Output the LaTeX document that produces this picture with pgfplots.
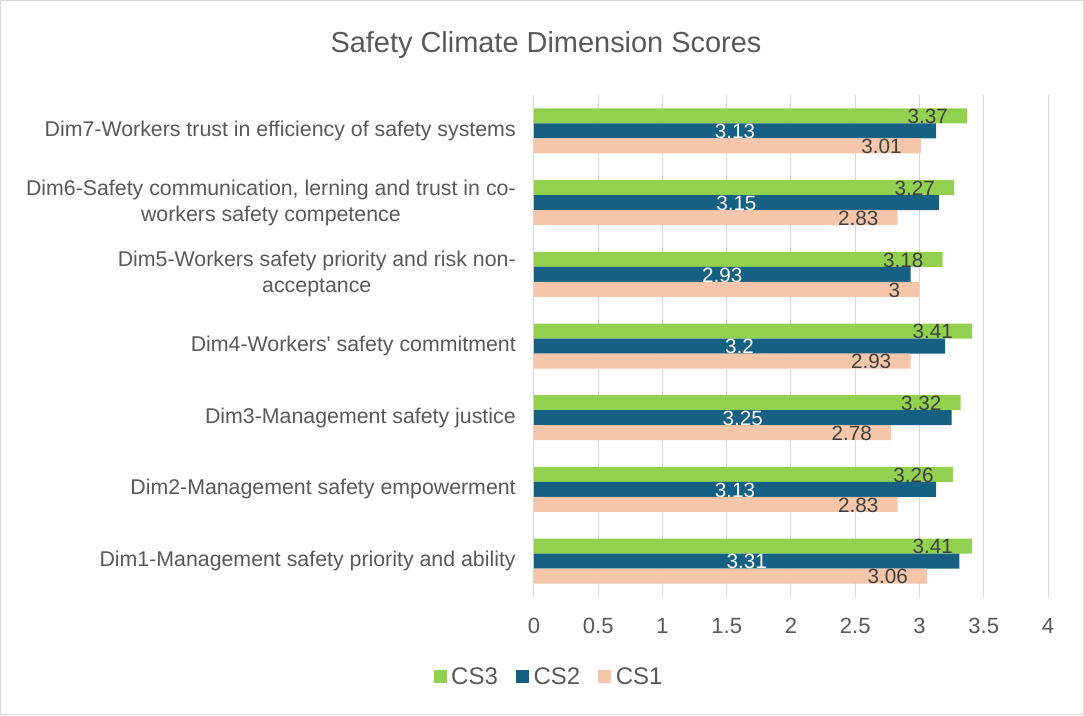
\documentclass[border=0pt]{standalone}
\usepackage{pgfplots}
\pgfplotsset{compat=1.18}
\usepackage{fontspec}
\setmainfont{Liberation Sans}
\definecolor{csg}{HTML}{92D050}
\definecolor{csb}{HTML}{166083}
\definecolor{csp}{HTML}{F5C6AA}
\definecolor{txt}{HTML}{595959}
\definecolor{lbl}{HTML}{404040}
\definecolor{grd}{HTML}{D9D9D9}
\begin{document}
\begin{tikzpicture}
\useasboundingbox (-400.5pt,-88.5pt) rectangle (412.5pt,447.75pt);
\draw[grd, line width=0.75pt] (-400.125pt,-88.125pt) rectangle (412.125pt,447.375pt);
\begin{axis}[
  scale only axis,
  width=385.5pt, height=376.5pt,
  xmin=0, xmax=4, ymin=-0.5, ymax=6.5,
  xbar, bar width=11.25pt,
  xtick={0,0.5,...,4},
  xticklabels={0,0.5,1,1.5,2,2.5,3,3.5,4},
  ytick={0,1,2,3,4,5,6},
  yticklabels={
    {Dim1-Management safety priority and ability},
    {Dim2-Management safety empowerment},
    {Dim3-Management safety justice},
    {Dim4-Workers\textquotesingle{} safety commitment},
    {Dim5-Workers safety priority and risk non-\\acceptance},
    {Dim6-Safety communication, lerning and trust in co-\\workers safety competence},
    {Dim7-Workers trust in efficiency of safety systems}},
  axis line style={draw=none},
  major tick length=0pt,
  xmajorgrids, major grid style={grd, line width=0.75pt},
  /pgf/number format/assume math mode=true,
  yticklabel style={anchor=east, align=center, inner sep=0pt, xshift=-13.5pt, font=\fontsize{16}{19.5}\selectfont, text=txt},
  xticklabel style={anchor=center, inner sep=0pt, yshift=-21.75pt, font=\fontsize{16.5}{19}\selectfont, text=txt},
  legend style={at={(0.028,-0.159)}, anchor=center, legend columns=-1, draw=none, fill=none,
    font=\fontsize{18}{20}\selectfont, text=txt, nodes={inner sep=0.5pt},
    /tikz/every odd column/.append style={column sep=3pt},
    /tikz/every even column/.append style={column sep=13pt}},
  legend image code/.code={\fill[#1] (0pt,-4.875pt) rectangle (9.75pt,4.875pt);},
  nodes near coords,
  every node near coord/.append style={font=\fontsize{15.5}{18}\selectfont, inner sep=0pt},
  clip=false,
]
\addplot[fill=csg, draw=none, bar shift=11.25pt,
  every node near coord/.append style={anchor=east, xshift=-14.25pt, yshift=-0.5pt, text=lbl}]
  coordinates {(3.41,0) (3.26,1) (3.32,2) (3.41,3) (3.18,4) (3.27,5) (3.37,6)};
\addplot[fill=csb, draw=none, bar shift=0pt,
  visualization depends on={rawx \as \rawx},
  every node near coord/.append style={anchor=center, xshift={-\rawx*48.1875pt}, yshift=-0.5pt, text=white}]
  coordinates {(3.31,0) (3.13,1) (3.25,2) (3.2,3) (2.93,4) (3.15,5) (3.13,6)};
\addplot[fill=csp, draw=none, bar shift=-11.25pt,
  every node near coord/.append style={anchor=east, xshift=-14.25pt, yshift=-0.5pt, text=lbl}]
  coordinates {(3.06,0) (2.83,1) (2.78,2) (2.93,3) (3,4) (2.83,5) (3.01,6)};
\legend{CS3,CS2,CS1}
\end{axis}
\node[text=txt, font=\fontsize{21.7}{25}\selectfont] at (9pt,414pt) {Safety Climate Dimension Scores};
\end{tikzpicture}
\end{document}
